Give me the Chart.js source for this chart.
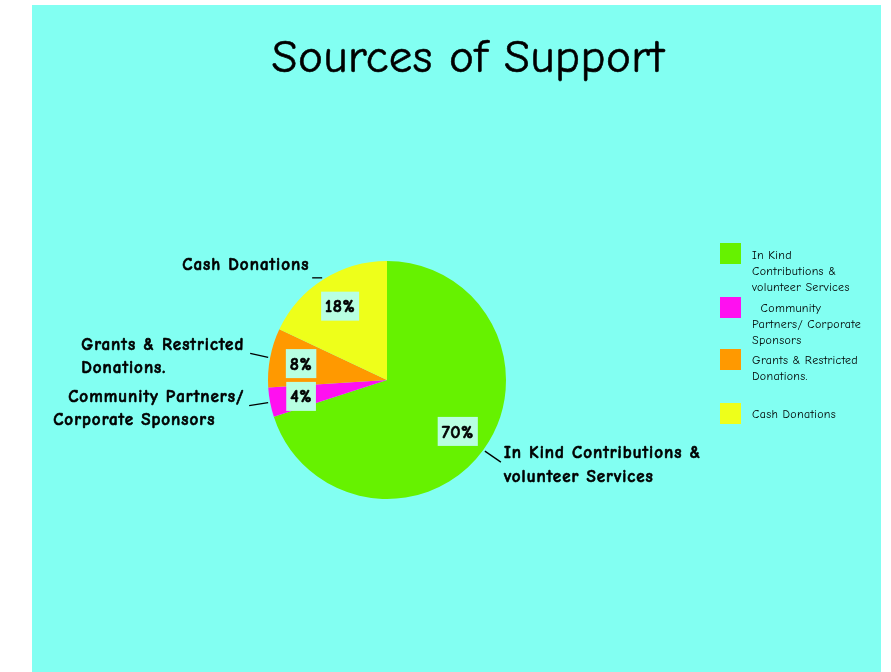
<!DOCTYPE html>
<html>
<head>
<meta charset="utf-8">
<script src="https://cdn.jsdelivr.net/npm/chart.js@4/dist/chart.umd.min.js"></script>
<style>
html,body{margin:0;padding:0;background:#ffffff;}
canvas{display:block;}
</style>
</head>
<body>
<canvas id="c" width="891" height="672"></canvas>
<script>
// ---- data ----
const title = "Sources of Support";
const categories = ["In Kind Contributions & volunteer Services", "Community Partners/ Corporate Sponsors", "Grants & Restricted Donations.", "Cash Donations"];
const values = [70, 4, 8, 18];
const legendLines = [["In Kind", "Contributions &", "volunteer Services"], ["  Community", "Partners/ Corporate", "Sponsors"], ["Grants & Restricted", "Donations."], ["Cash Donations"]];
const calloutLines = [["In Kind Contributions &", "volunteer Services"], ["Community Partners/", "Corporate Sponsors"], ["Grants & Restricted", "Donations."], ["Cash Donations"]];
const colors = ["#66F200", "#FF10F0", "#FF9900", "#EEFF1A"];

// ---- styles / layout ----
const BG = "#82FFF2";
const FONT = '"Comic Sans MS", "Comic Neue", "DejaVu Sans", sans-serif';
// leader line outer end offsets (from edge point) and text line positions (left x offset, y offset) relative to leader end
const callout = [
  {d: [16, 11], lines: [[3, -9], [3, 15]]},
  {d: [-19, 3], lines: [[-181, -8], [-196, 15]]},
  {d: [-18, -4], lines: [[-169, -8], [-169, 15]]},
  {d: [-10, 0], lines: [[-130, -13]]}
];

function boldText(ctx, s, x, y, w) {
  ctx.lineWidth = w;
  ctx.strokeStyle = '#000';
  ctx.lineJoin = 'round';
  ctx.strokeText(s, x, y);
  ctx.fillText(s, x, y);
}

const deco = {
  id: 'deco',
  beforeDraw(chart) {
    const ctx = chart.ctx;
    ctx.save();
    ctx.fillStyle = '#ffffff';
    ctx.fillRect(0, 0, chart.width, chart.height);
    ctx.fillStyle = BG;
    ctx.fillRect(32, 5, 849, 667);
    // title
    ctx.fillStyle = '#000';
    ctx.font = '47px ' + FONT;
    ctx.letterSpacing = '0.5px';
    ctx.textAlign = 'center';
    ctx.textBaseline = 'alphabetic';
    boldText(ctx, title, 468, 72, 0.6);
    ctx.restore();
  },
  afterDatasetsDraw(chart) {
    const ctx = chart.ctx;
    const meta = chart.getDatasetMeta(0);
    const total = values.reduce((a, b) => a + b, 0);
    ctx.save();
    meta.data.forEach((arc, i) => {
      const p = arc.getProps(['x', 'y', 'startAngle', 'endAngle', 'outerRadius'], true);
      const mid = (p.startAngle + p.endAngle) / 2;
      const cx = Math.cos(mid), cy = Math.sin(mid);
      // percentage box
      const lx = p.x + cx * p.outerRadius * 0.735;
      const ly = p.y + cy * p.outerRadius * 0.735;
      const txt = Math.round(values[i] / total * 100) + '%';
      ctx.font = 'bold 18px ' + FONT;
      ctx.letterSpacing = '0.5px';
      const w = ctx.measureText(txt).width + 8;
      ctx.fillStyle = '#B8FFE2';
      ctx.fillRect(lx - w / 2, ly - 14.5, w, 29);
      ctx.fillStyle = '#000';
      ctx.textAlign = 'center';
      ctx.textBaseline = 'middle';
      boldText(ctx, txt, lx, ly + 1, 0.6);
      // leader line
      const ex = p.x + cx * (p.outerRadius + 2);
      const ey = p.y + cy * (p.outerRadius + 2);
      const c = callout[i];
      const ox = ex + c.d[0], oy = ey + c.d[1];
      ctx.strokeStyle = '#000';
      ctx.lineWidth = 1.3;
      ctx.beginPath();
      ctx.moveTo(ex, ey);
      ctx.lineTo(ox, oy);
      ctx.stroke();
      ctx.font = 'bold 17px ' + FONT;
      ctx.letterSpacing = '1px';
      ctx.textAlign = 'left';
      calloutLines[i].forEach((s, k) => {
        const [dx, dy] = c.lines[k];
        boldText(ctx, s, ox + dx, oy + dy, 0.6);
      });
    });
    // legend
    ctx.font = '12px ' + FONT;
    ctx.letterSpacing = '0.3px';
    ctx.textAlign = 'left';
    ctx.textBaseline = 'middle';
    const tops = [243, 297, 349, 403];
    const firstLine = [256, 309, 361, 415];
    legendLines.forEach((ls, i) => {
      ctx.fillStyle = colors[i];
      ctx.fillRect(720, tops[i], 21, 21);
      ctx.fillStyle = '#000';
      ls.forEach((s, k) => ctx.fillText(s, 752, firstLine[i] + k * 15.7));
    });
    ctx.restore();
  }
};

new Chart(document.getElementById('c'), {
  type: 'pie',
  data: {
    labels: categories,
    datasets: [{
      data: values,
      backgroundColor: colors,
      borderWidth: 0
    }]
  },
  options: {
    responsive: false,
    animation: false,
    layout: {padding: {left: 268, right: 385, top: 261, bottom: 173}},
    plugins: {legend: {display: false}, tooltip: {enabled: false}, title: {display: false}}
  },
  plugins: [deco]
});
</script>
</body>
</html>
